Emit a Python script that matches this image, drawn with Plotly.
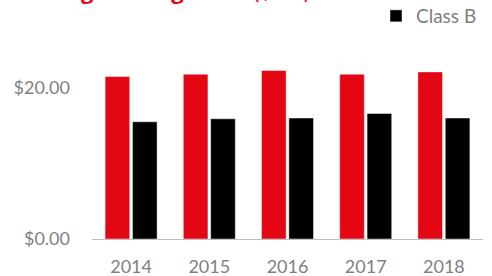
import plotly.graph_objects as go

years = ["2014", "2015", "2016", "2017", "2018"]
class_a = [21.5, 21.8, 22.3, 21.8, 22.1]
class_b = [15.5, 15.9, 16.0, 16.6, 16.0]
series_names = ["Class A", "Class B"]
colors = ["#E30613", "#000000"]
title_main = "Average asking rents"
title_unit = "($/SF)"

FONT = "Lato, 'Open Sans', sans-serif"

fig = go.Figure()
fig.add_trace(go.Bar(
    x=years, y=class_a, name=series_names[0],
    marker=dict(color=colors[0], line=dict(color="rgba(255,255,255,0.45)", width=1)),
    showlegend=False,
))
fig.add_trace(go.Bar(
    x=years, y=class_b, name=series_names[1],
    marker=dict(color=colors[1], line=dict(color="rgba(255,255,255,0.45)", width=1)),
))

W, H = 492, 276
ml, mr, mt, mb = 92, 9, 50, 37
pw, ph = W - ml - mr, H - mt - mb

fig.update_layout(
    width=W, height=H,
    margin=dict(l=ml, r=mr, t=mt, b=mb, autoexpand=False),
    plot_bgcolor="white", paper_bgcolor="white",
    barmode="group", bargap=0.3, bargroupgap=0.1,
    font=dict(family=FONT, color="#7f7f7f", size=18),
    xaxis=dict(
        showline=True, linecolor="#BFBFBF", linewidth=1, automargin=False,
        showgrid=False, ticks="outside", ticklen=11, tickcolor="rgba(0,0,0,0)",
        tickfont=dict(size=18, color="#7f7f7f"),
    ),
    yaxis=dict(
        range=[0, 25], dtick=20, tickformat="$.2f", automargin=False,
        showgrid=False, zeroline=False, showline=False,
        ticklabelstandoff=21,
        tickfont=dict(size=18, color="#7f7f7f"),
    ),
    legend=dict(
        xref="container", yref="container",
        x=376 / W, y=1 - 16 / H, xanchor="left", yanchor="middle",
        font=dict(size=19, color="#7f7f7f"), bgcolor="rgba(0,0,0,0)",
        itemwidth=30,
    ),
    annotations=[dict(
        text=f"<b>{title_main}</b> {title_unit}",
        xref="paper", yref="paper", x=(15 - ml) / pw, y=1 + (mt - 7) / ph,
        xanchor="left", yanchor="bottom", showarrow=False,
        font=dict(family="'Open Sans', sans-serif", size=22, color="#E30613"),
    )],
)

fig.write_html("out.html", config={"displayModeBar": False},
               post_script="document.body.style.margin='0';")
